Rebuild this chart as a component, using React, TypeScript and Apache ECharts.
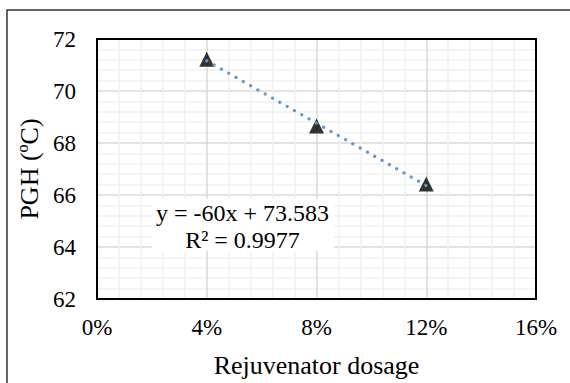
import React, { useEffect, useRef } from "react";
import * as echarts from "echarts";

// Data
const dosage: number[] = [0.04, 0.08, 0.12];
const pgh: number[] = [71.22, 68.65, 66.42];
const xTicks: string[] = ["0%", "4%", "8%", "12%", "16%"];
const yTicks: number[] = [62, 64, 66, 68, 70, 72];
const equationText = "y = -60x + 73.583";
const r2Text = "R² = 0.9977";

// Least-squares trendline through the data (as the original spreadsheet does)
function linearFit(xs: number[], ys: number[]) {
  const n = xs.length;
  const mx = xs.reduce((a, b) => a + b, 0) / n;
  const my = ys.reduce((a, b) => a + b, 0) / n;
  let sxy = 0;
  let sxx = 0;
  for (let i = 0; i < n; i++) {
    sxy += (xs[i] - mx) * (ys[i] - my);
    sxx += (xs[i] - mx) * (xs[i] - mx);
  }
  const slope = sxy / sxx;
  return { slope, intercept: my - slope * mx };
}

const FONT = "Liberation Serif";

export default function App() {
  const ref = useRef<HTMLDivElement>(null);

  useEffect(() => {
    if (!ref.current) return;
    const chart = echarts.init(ref.current, undefined, { renderer: "svg" });
    const fit = linearFit(dosage, pgh);
    const xStart = dosage[0];
    const xEnd = dosage[dosage.length - 1];
    const trend = [
      [xStart, fit.slope * xStart + fit.intercept],
      [xEnd, fit.slope * xEnd + fit.intercept],
    ];

    chart.setOption({
      animation: false,
      backgroundColor: "#ffffff",
      textStyle: { fontFamily: FONT },
      grid: {
        left: 97,
        top: 39,
        right: 34,
        bottom: 80,
        show: true,
        borderColor: "#000000",
        borderWidth: 2,
        backgroundColor: "transparent",
        z: 3,
      },
      xAxis: {
        type: "value",
        min: 0,
        max: 0.16,
        interval: 0.04,
        axisLine: { show: false },
        axisTick: { show: false },
        axisLabel: {
          fontFamily: FONT,
          fontSize: 23,
          color: "#000000",
          margin: 17,
          formatter: (v: number) => xTicks[Math.round(v / 0.04)] ?? "",
        },
        splitLine: { show: true, lineStyle: { color: "#d9d9d9", width: 1.5 } },
        minorTick: { show: false, splitNumber: 5 },
        minorSplitLine: { show: true, lineStyle: { color: "#f0f0f0", width: 1.5 } },
        name: "Rejuvenator dosage",
        nameLocation: "middle",
        nameGap: 53,
        nameTextStyle: { fontFamily: FONT, fontSize: 26, color: "#000000" },
      },
      yAxis: {
        type: "value",
        min: yTicks[0],
        max: yTicks[yTicks.length - 1],
        interval: 2,
        axisLine: { show: false },
        axisTick: { show: false },
        axisLabel: {
          fontFamily: FONT,
          fontSize: 23,
          color: "#000000",
          margin: 21,
        },
        splitLine: { show: true, lineStyle: { color: "#d9d9d9", width: 1.5 } },
        minorTick: { show: false, splitNumber: 5 },
        minorSplitLine: { show: true, lineStyle: { color: "#f0f0f0", width: 1.5 } },
        name: "PGH (ºC)",
        nameLocation: "middle",
        nameGap: 53,
        nameTextStyle: { fontFamily: FONT, fontSize: 26, color: "#000000" },
      },
      series: [
        {
          type: "scatter",
          data: dosage.map((d, i) => [d, pgh[i]]),
          symbol: "triangle",
          symbolSize: 15,
          itemStyle: { color: "#000000" },
          z: 2,
        },
        {
          type: "line",
          data: trend,
          symbol: "none",
          lineStyle: {
            color: "#5B9BD5",
            width: 3.2,
            type: [0.1, 8.3],
            cap: "round",
          },
          z: 4,
        },
      ],
      graphic: [
        {
          type: "rect",
          shape: { x: 7, y: 10, width: 600, height: 400 },
          style: { fill: "none", stroke: "#333333", lineWidth: 1.5 },
          silent: true,
        },
        {
          type: "rect",
          shape: { x: 152, y: 199, width: 182, height: 52 },
          style: { fill: "#ffffff" },
          silent: true,
          z: 1,
        },
        {
          type: "text",
          x: 242.5,
          y: 213,
          z: 2,
          style: {
            text: equationText,
            fontFamily: FONT,
            fontSize: 24,
            fill: "#000000",
            align: "center",
            verticalAlign: "middle",
          },
        },
        {
          type: "text",
          x: 242.5,
          y: 240,
          z: 2,
          style: {
            text: r2Text,
            fontFamily: FONT,
            fontSize: 24,
            fill: "#000000",
            align: "center",
            verticalAlign: "middle",
          },
        },
      ],
    });
    return () => chart.dispose();
  }, []);

  return (
    <div
      ref={ref}
      style={{ position: "fixed", left: 0, top: 0, width: 570, height: 383, background: "#fff" }}
    />
  );
}
